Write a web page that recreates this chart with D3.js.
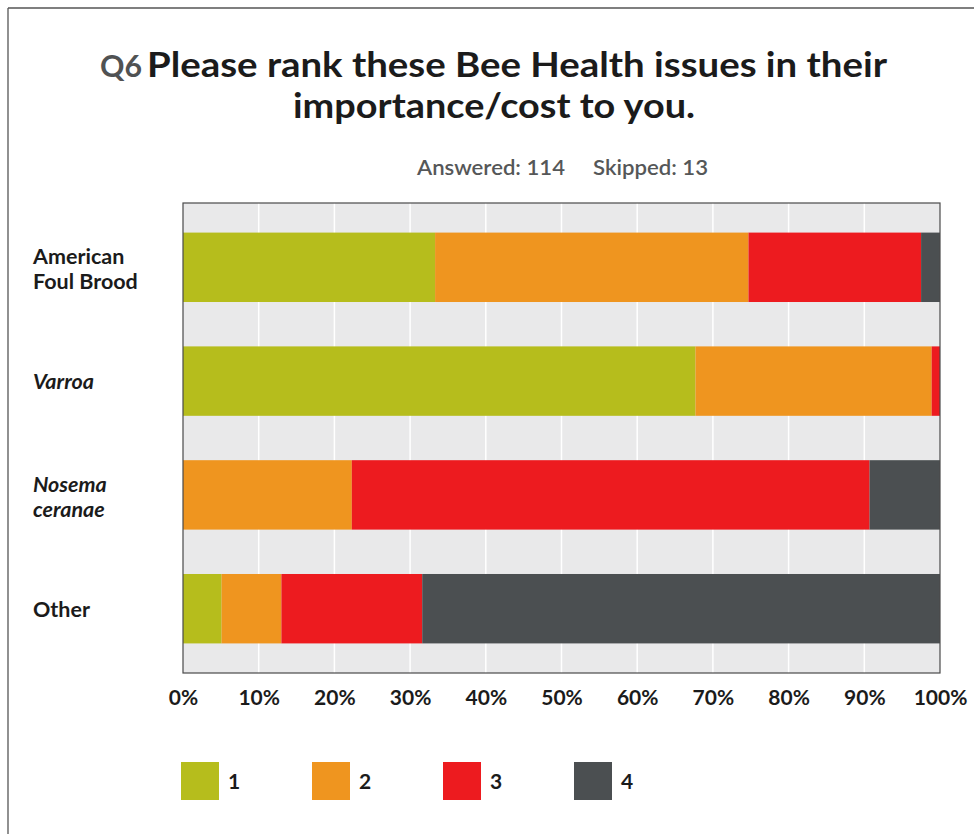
<!DOCTYPE html>
<html>
<head>
<meta charset="utf-8">
<script src="https://cdn.jsdelivr.net/npm/d3@7"></script>
<style>
  html, body { margin: 0; padding: 0; background: #ffffff; }
  svg { display: block; }
  text { font-family: Lato, "Open Sans", "DejaVu Sans", sans-serif; }
</style>
</head>
<body>
<svg id="chart" width="974" height="834"></svg>
<script>
// ---- data ----
const categories = ["American Foul Brood", "Varroa", "Nosema ceranae", "Other"];
const categoryLines = [["American", "Foul Brood"], ["Varroa"], ["Nosema", "ceranae"], ["Other"]];
const categoryItalic = [false, true, true, false];
const seriesNames = ["1", "2", "3", "4"];
const rank1 = [33.3, 67.7, 0.0, 5.1];
const rank2 = [41.4, 31.2, 22.3, 7.9];
const rank3 = [22.8, 1.1, 68.4, 18.6];
const rank4 = [2.5, 0.0, 9.3, 68.4];
const xTicks = [0, 10, 20, 30, 40, 50, 60, 70, 80, 90, 100];
const seriesColors = ["#b6bd1c", "#ef951f", "#ed1b1f", "#4b4f51"];
const titleQ = "Q6";
const titleLine1 = "Please rank these Bee Health issues in their";
const titleLine2 = "importance/cost to you.";
const answeredText = "Answered: 114";
const skippedText = "Skipped: 13";

// ---- build table ----
const table = categories.map((c, i) => ({
  cat: c, "1": rank1[i], "2": rank2[i], "3": rank3[i], "4": rank4[i]
}));
const stacked = d3.stack().keys(seriesNames)(table);

const svg = d3.select("#chart");

// page frame
svg.append("line").attr("x1", 8).attr("y1", 8).attr("x2", 974).attr("y2", 8)
  .attr("stroke", "#555").attr("stroke-width", 1.3);
svg.append("line").attr("x1", 8).attr("y1", 8).attr("x2", 8).attr("y2", 834)
  .attr("stroke", "#555").attr("stroke-width", 1.3);

// ---- title ----
function fitText(sel, target) {
  sel.attr("textLength", target).attr("lengthAdjust", "spacingAndGlyphs");
}
const q = svg.append("text").attr("x", 100).attr("y", 77)
  .attr("font-size", 30).attr("font-weight", 700).attr("fill", "#505253").text(titleQ);
fitText(q, 42);
const t1 = svg.append("text").attr("x", 147).attr("y", 77)
  .attr("font-size", 35).attr("font-weight", 700).attr("fill", "#1b1b1b").text(titleLine1);
fitText(t1, 740);
const t2 = svg.append("text").attr("x", 293).attr("y", 118)
  .attr("font-size", 35).attr("font-weight", 700).attr("fill", "#1b1b1b").text(titleLine2);
fitText(t2, 402);

const s1 = svg.append("text").attr("x", 417).attr("y", 175)
  .attr("font-size", 21).attr("font-weight", 600).attr("fill", "#555758")
  .attr("font-family", "'Open Sans', sans-serif").text(answeredText);
fitText(s1, 148);
const s2 = svg.append("text").attr("x", 593).attr("y", 175)
  .attr("font-size", 21).attr("font-weight", 600).attr("fill", "#555758")
  .attr("font-family", "'Open Sans', sans-serif").text(skippedText);
fitText(s2, 115);

// ---- scales ----
const plot = { left: 183, right: 940, top: 203, bottom: 673 };
const x = d3.scaleLinear().domain([0, 100]).range([plot.left, plot.right]);
const y = d3.scaleBand().domain(categories).range([plot.top, plot.bottom])
  .paddingInner(0.39).paddingOuter(0.26);

// plot background
svg.append("rect").attr("x", plot.left).attr("y", plot.top)
  .attr("width", plot.right - plot.left).attr("height", plot.bottom - plot.top)
  .attr("fill", "#e9e9ea");

// white gridlines
svg.append("g").selectAll("line").data(xTicks.slice(1, -1)).join("line")
  .attr("x1", d => x(d)).attr("x2", d => x(d))
  .attr("y1", plot.top).attr("y2", plot.bottom)
  .attr("stroke", "#ffffff").attr("stroke-width", 1.5);

// bars
svg.append("g").selectAll("g").data(stacked).join("g")
  .attr("fill", (d, i) => seriesColors[i])
  .selectAll("rect").data(d => d).join("rect")
  .attr("x", d => x(d[0]))
  .attr("width", d => Math.max(0, x(d[1]) - x(d[0])))
  .attr("y", d => y(d.data.cat))
  .attr("height", y.bandwidth());

// plot border
svg.append("rect").attr("x", plot.left).attr("y", plot.top)
  .attr("width", plot.right - plot.left).attr("height", plot.bottom - plot.top)
  .attr("fill", "none").attr("stroke", "#4a4a4a").attr("stroke-width", 1.2);

// x axis
const xAxis = svg.append("g").attr("transform", `translate(0,${plot.bottom})`)
  .call(d3.axisBottom(x).tickValues(xTicks).tickFormat(d => d + "%").tickSize(0).tickPadding(17));
xAxis.select(".domain").remove();
xAxis.selectAll("text").attr("font-size", 21).attr("font-weight", 700)
  .attr("fill", "#1b1b1b").attr("font-family", "Lato, sans-serif");

// y labels (left aligned)
const yl = svg.append("g");
categories.forEach((c, i) => {
  const lines = categoryLines[i];
  const cy = y(c) + y.bandwidth() / 2;
  const n = lines.length;
  const txt = yl.append("text").attr("x", 33)
    .attr("font-size", 21.5).attr("font-weight", 700).attr("fill", "#1b1b1b")
    .attr("font-style", categoryItalic[i] ? "italic" : "normal");
  lines.forEach((ln, j) => {
    txt.append("tspan").attr("x", 33).attr("y", cy + 8 - (n - 1) * 11 + j * 25).text(ln);
  });
});

// legend
const lg = svg.append("g");
seriesNames.forEach((s, i) => {
  const lx = 181 + i * 131;
  lg.append("rect").attr("x", lx).attr("y", 762).attr("width", 38).attr("height", 38)
    .attr("fill", seriesColors[i]);
  lg.append("text").attr("x", lx + 47).attr("y", 789)
    .attr("font-size", 21).attr("font-weight", 700).attr("fill", "#1b1b1b").text(s);
});
</script>
</body>
</html>
